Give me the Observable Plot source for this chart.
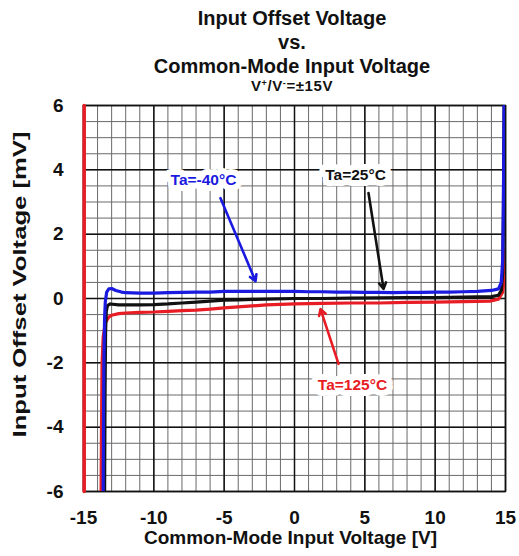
<!DOCTYPE html>
<html><head><meta charset="utf-8">
<script src="https://cdn.jsdelivr.net/npm/d3@7"></script>
<script src="https://cdn.jsdelivr.net/npm/@observablehq/plot@0.6"></script>
<style>
body{margin:0;background:#fff;}
#wrap{width:519px;height:556px;overflow:hidden;font-family:"Liberation Sans",Arial,sans-serif;background:#fff;}
#title{height:93px;box-sizing:border-box;padding:6px 0 0 65px;text-align:center;font-weight:bold;color:#111;}
#title .t{font-size:20px;line-height:24px;}
#title .s{font-size:15px;line-height:14px;margin-top:1px;letter-spacing:0.6px;}
#title sup{font-size:9px;vertical-align:5px;line-height:0;}
#chart svg{display:block;}
</style></head><body>
<div id="wrap">
  <div id="title"></div>
  <div id="chart"></div>
</div>
<script>
const titleLines = ["Input Offset Voltage", "vs.", "Common-Mode Input Voltage"];
const subtitleHTML = "V<sup>+</sup>/V<sup>-</sup>=±15V";
const xLabel = "Common-Mode Input Voltage [V]";
const yLabel = "Input Offset Voltage [mV]";

const xTicks = [-15, -10, -5, 0, 5, 10, 15];
const yTicks = [-6, -4, -2, 0, 2, 4, 6];
const xMinor = [-15,-14,-13,-12,-11,-10,-9,-8,-7,-6,-5,-4,-3,-2,-1,0,1,2,3,4,5,6,7,8,9,10,11,12,13,14,15];
const yMinor = [-6,-5.5,-5,-4.5,-4,-3.5,-3,-2.5,-2,-1.5,-1,-0.5,0,0.5,1,1.5,2,2.5,3,3.5,4,4.5,5,5.5,6];

// Ta = 125°C (red)
const redX = [-13.75,-13.72,-13.68,-13.6,-13.45,-13.2,-13,-12.5,-12,-11,-10,-9,-8,-7,-6,-5,-4,-3,-2,-1,0,2,4,6,8,10,12,13.9,14.5,14.8,14.9,14.95];
const redY = [-6,-4,-2,-1.2,-0.75,-0.58,-0.52,-0.47,-0.45,-0.43,-0.42,-0.4,-0.38,-0.36,-0.33,-0.29,-0.26,-0.23,-0.2,-0.18,-0.17,-0.15,-0.14,-0.14,-0.12,-0.11,-0.1,-0.08,-0.02,0.2,0.6,1.5];
// red trace along the left edge
const redEdgeX = [-14.95, -14.95];
const redEdgeY = [-6, 6];
// Ta = 25°C (black)
const blackX = [-13.5,-13.47,-13.43,-13.38,-13.3,-13.1,-12.5,-12,-11,-10,-9,-8,-7,-6,-5,-4,-3,-2,0,2,4,6,8,10,12,13,14,14.5,14.7,14.8,14.85,14.9];
const blackY = [-6,-3,-1,-0.4,-0.22,-0.17,-0.2,-0.2,-0.2,-0.19,-0.17,-0.14,-0.11,-0.08,-0.05,-0.04,-0.03,-0.02,0,0,0.01,0.02,0.03,0.03,0.04,0.05,0.06,0.1,0.25,0.8,2.5,6];
// Ta = -40°C (blue)
const blueX = [-13.6,-13.58,-13.55,-13.5,-13.45,-13.35,-13.2,-13,-12.7,-12.3,-12,-11,-10,-9,-8,-7,-6,-5,-4,-3,-2,-1,0,1,2,3,4,5,6,7,8,9,10,11,12,13,14,14.5,14.7,14.8,14.85,14.9];
const blueY = [-6,-4,-2,-0.6,-0.1,0.2,0.3,0.31,0.25,0.2,0.18,0.17,0.17,0.18,0.19,0.2,0.2,0.22,0.22,0.22,0.22,0.22,0.22,0.21,0.21,0.2,0.2,0.19,0.19,0.18,0.19,0.19,0.2,0.2,0.21,0.22,0.25,0.3,0.5,1.2,3,6];

const seriesNames = ["Ta=125°C", "Ta=25°C", "Ta=-40°C"];
const seriesColors = ["#e81c24", "#111111", "#1a1ae0"];
const labelX = [4.12, 4.34, -6.47];
const labelY = [-2.69, 3.84, 3.68];
const arrowX1 = [3.13, 5.26, -5.26];
const arrowY1 = [-2.03, 3.28, 3.12];
const arrowX2 = [1.85, 6.33, -2.77];
const arrowY2 = [-0.33, 0.30, 0.54];

// title
const titleEl = document.getElementById("title");
titleLines.forEach(t => { const d = document.createElement("div"); d.className = "t"; d.textContent = t; titleEl.appendChild(d); });
const sub = document.createElement("div"); sub.className = "s"; sub.innerHTML = subtitleHTML; titleEl.appendChild(sub);

const toPts = (xs, ys) => xs.map((x, i) => ({x, y: ys[i]}));
const curveData = [toPts(redX, redY), toPts(blackX, blackY), toPts(blueX, blueY)];
const edgeData = toPts(redEdgeX, redEdgeY);
const font = "'Liberation Sans', Arial, sans-serif";

const marks = [
  Plot.ruleX(xMinor, {stroke: "#6a6a6a", strokeWidth: 1}),
  Plot.ruleY(yMinor, {stroke: "#6a6a6a", strokeWidth: 1}),
  Plot.ruleX(xTicks, {stroke: "#111", strokeWidth: 1.5}),
  Plot.ruleY(yTicks, {stroke: "#111", strokeWidth: 1.5}),
  Plot.frame({stroke: "#111", strokeWidth: 1.5}),
  Plot.axisX({ticks: xTicks, tickSize: 0, tickPadding: 19, label: null, fontSize: 19, tickFormat: d => String(d)}),
  Plot.axisY({ticks: yTicks, tickSize: 0, tickPadding: 20, label: null, fontSize: 19, tickFormat: d => String(d)}),
  Plot.line(edgeData, {x: "x", y: "y", stroke: seriesColors[0], strokeWidth: 3.5})
];
curveData.forEach((pts, i) => {
  marks.push(Plot.line(pts, {x: "x", y: "y", stroke: seriesColors[i], strokeWidth: 3.2, strokeLinejoin: "round", clip: true}));
});
seriesNames.forEach((name, i) => {
  marks.push(Plot.arrow([0], {x1: () => arrowX1[i], y1: () => arrowY1[i], x2: () => arrowX2[i], y2: () => arrowY2[i],
    stroke: seriesColors[i], strokeWidth: 2.6, headLength: 4}));
});
seriesNames.forEach((name, i) => {
  marks.push(Plot.text([name], {x: () => labelX[i], y: () => labelY[i], text: d => d, fill: seriesColors[i],
    stroke: "white", strokeWidth: 12, paintOrder: "stroke", strokeLinejoin: "round", fontSize: 15.5, fontWeight: "bold"}));
});
marks.push(Plot.text([xLabel], {frameAnchor: "bottom", lineAnchor: "middle", textAnchor: "middle", dy: 46, dx: -4, text: d => d, fontSize: 19, fill: "#111"}));
marks.push(Plot.text([yLabel], {frameAnchor: "left", lineAnchor: "middle", textAnchor: "middle", dx: -64, dy: -14, rotate: -90, text: d => d, fontSize: 19, fill: "#111"}));

const plot = Plot.plot({
  width: 519, height: 463,
  marginLeft: 83, marginRight: 14, marginTop: 12, marginBottom: 65,
  x: {domain: [-15, 15]},
  y: {domain: [-6, 6]},
  style: {fontFamily: font, fontWeight: "bold", fontSize: "19px", color: "#111", background: "#fff", overflow: "visible"},
  marks
});
document.getElementById("chart").appendChild(plot);
plot.querySelectorAll("text").forEach(el => {
  if (el.textContent === yLabel) {
    el.setAttribute("textLength", "306");
    el.setAttribute("lengthAdjust", "spacingAndGlyphs");
  }
});
</script>
</body></html>
